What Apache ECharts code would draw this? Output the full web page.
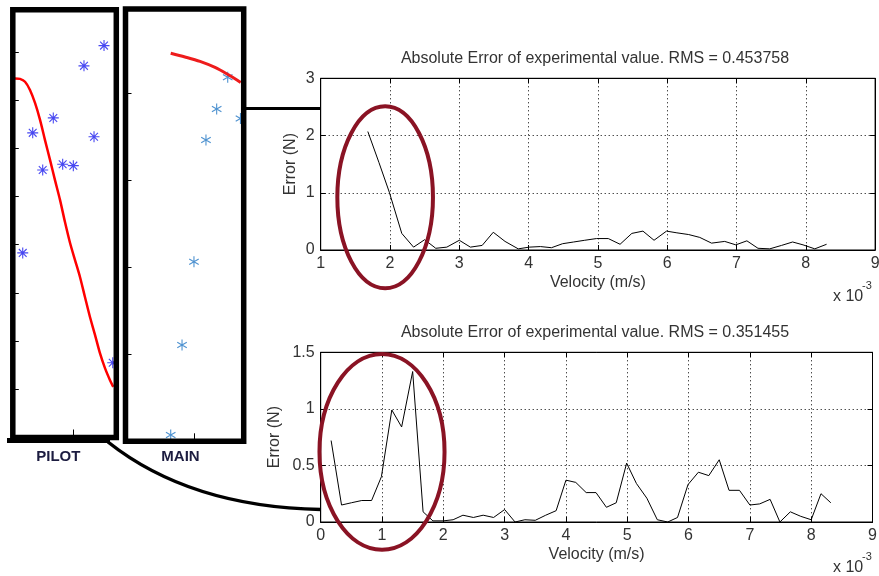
<!DOCTYPE html>
<html>
<head>
<meta charset="utf-8">
<script src="https://cdn.jsdelivr.net/npm/echarts@6/dist/echarts.min.js"></script>
<style>
  html, body { margin: 0; padding: 0; background: #fff; }
  #chart { width: 879px; height: 576px; }
</style>
</head>
<body>
<div id="chart"></div>
<script>
// ---- Upper plot: absolute error vs. velocity (x 10^-3 m/s) ----
const upperVelocity = [1.68, 1.84, 1.99, 2.17, 2.34, 2.50, 2.66, 2.82, 3.00, 3.16, 3.33, 3.49, 3.66, 3.85,
  4.01, 4.17, 4.33, 4.49, 4.65, 4.81, 4.98, 5.15, 5.32, 5.49, 5.65, 5.81, 5.99, 6.14, 6.31, 6.47,
  6.64, 6.83, 6.99, 7.15, 7.31, 7.48, 7.65, 7.81, 7.96, 8.13, 8.30];
const upperError = [2.07, 1.53, 1.01, 0.29, 0.05, 0.18, 0.03, 0.05, 0.17, 0.05, 0.08, 0.31, 0.15, 0.02,
  0.05, 0.06, 0.04, 0.11, 0.14, 0.17, 0.20, 0.20, 0.10, 0.29, 0.33, 0.17, 0.33, 0.30, 0.27, 0.22,
  0.12, 0.15, 0.09, 0.16, 0.03, 0.02, 0.08, 0.14, 0.09, 0.02, 0.10];
const upperTitle = 'Absolute Error of experimental value. RMS = 0.453758';

// ---- Lower plot ----
const lowerVelocity = [0.17, 0.34, 0.50, 0.67, 0.83, 0.99, 1.16, 1.32, 1.50, 1.67, 1.83, 2.00, 2.16, 2.32,
  2.49, 2.65, 2.82, 3.00, 3.17, 3.33, 3.50, 3.67, 3.84, 4.00, 4.16, 4.33, 4.49, 4.66, 4.82, 4.99,
  5.15, 5.32, 5.49, 5.66, 5.82, 5.99, 6.16, 6.33, 6.50, 6.66, 6.83, 7.00, 7.16, 7.33, 7.49, 7.66,
  7.83, 8.00, 8.16, 8.32];
const lowerError = [0.72, 0.15, 0.17, 0.19, 0.19, 0.40, 0.99, 0.84, 1.33, 0.09, 0.01, 0.01, 0.02, 0.06,
  0.04, 0.06, 0.04, 0.11, 0.00, 0.02, 0.015, 0.06, 0.10, 0.37, 0.35, 0.26, 0.26, 0.13, 0.17, 0.52,
  0.34, 0.21, 0.02, 0.00, 0.04, 0.33, 0.44, 0.41, 0.55, 0.28, 0.28, 0.15, 0.16, 0.20, 0.00, 0.09,
  0.05, 0.02, 0.25, 0.17];
const lowerTitle = 'Absolute Error of experimental value. RMS = 0.351455';

// Tick values of the two error plots
const upperXTicks = { min: 1, max: 9, step: 1 };
const upperYTicks = { min: 0, max: 3, step: 1 };
const lowerXTicks = { min: 0, max: 9, step: 1 };
const lowerYTicks = { min: 0, max: 1.5, step: 0.5 };

// ---- Inset "PILOT": measured points and fitted curve ----
const pilotPointX = [1.507, 1.176, 0.669, 0.329, 1.342, 0.494, 0.824, 1.000, 0.164, 1.651];
const pilotPointY = [8.13, 7.71, 6.63, 6.32, 6.24, 5.55, 5.67, 5.64, 3.83, 1.55];
const pilotCurveX = [0.000, 0.036, 0.119, 0.202, 0.284, 0.367, 0.450, 0.532, 0.615, 0.697, 0.780, 0.862,
  0.945, 1.028, 1.110, 1.193, 1.275, 1.358, 1.440, 1.523, 1.606, 1.660];
const pilotCurveY = [7.45, 7.45, 7.44, 7.38, 7.21, 6.94, 6.59, 6.17, 5.76, 5.34, 4.93, 4.47,
  4.04, 3.68, 3.33, 2.91, 2.50, 2.13, 1.75, 1.44, 1.19, 1.05];

// ---- Inset "MAIN" ----
const mainPointX = [1.490, 1.329, 1.173, 0.998, 0.824, 0.659, 1.676];
const mainPointY = [4.18, 3.815, 3.459, 2.062, 1.106, 0.072, 3.706];
const mainCurveX = [0.659, 0.867, 1.086, 1.305, 1.494, 1.625, 1.679];
const mainCurveY = [4.455, 4.412, 4.361, 4.292, 4.211, 4.148, 4.119];

// Regions circled on the error plots (data units)
const upperHighlight = { cx: 1.93, cy: 0.92, halfW: 0.69, halfH: 1.59 };
const lowerHighlight = { cx: 1.00, cy: 0.62, halfW: 1.02, halfH: 0.865 };

// ------------------------------------------------------------------
const FONT = "'Liberation Sans', Arial, Helvetica, sans-serif";
const TXT = '#333';
const MAROON = '#8a1324';

const pairs = (xs, ys) => xs.map((x, i) => [x, ys[i]]);

// Marker shapes: 8-arm "+ and x" star and 6-arm asterisk
const STAR8 = 'path://M-0.5,-5L0.5,-5L0.5,5L-0.5,5Z M-5,-0.5L5,-0.5L5,0.5L-5,0.5Z ' +
  'M3.18,3.89L-3.89,-3.18L-3.18,-3.89L3.89,3.18Z M3.89,-3.18L-3.18,3.89L-3.89,3.18L3.18,-3.89Z';
const STAR6 = 'path://M-0.5,-5L0.5,-5L0.5,5L-0.5,5Z ' +
  'M4.08,2.93L-4.58,-2.07L-4.08,-2.93L4.58,2.07Z M4.58,-2.07L-4.08,2.93L-4.58,2.07L4.08,-2.93Z';

const labelStyle = { color: TXT, fontSize: 16, fontFamily: FONT };
const dotted = { color: '#000', width: 1, type: [1, 3] };
const tickIn = { show: true, inside: true, length: 5, lineStyle: { color: '#000', width: 1 } };

function plotXAxes(grid, t, withName) {
  return [
    {
      gridIndex: grid, type: 'value', min: t.min, max: t.max, interval: t.step, position: 'bottom',
      axisLine: { show: true, onZero: false, lineStyle: { color: '#000', width: 1 } },
      axisTick: tickIn,
      axisLabel: Object.assign({ show: true, margin: 6 }, labelStyle),
      splitLine: { show: true, lineStyle: dotted },
      name: withName, nameLocation: 'middle', nameGap: 25, nameMoveOverlap: false,
      nameTextStyle: labelStyle
    },
    {
      gridIndex: grid, type: 'value', min: t.min, max: t.max, interval: t.step, position: 'top',
      axisLine: { show: true, onZero: false, lineStyle: { color: '#000', width: 1 } },
      axisTick: tickIn, axisLabel: { show: false }, splitLine: { show: false }
    }
  ];
}
function plotYAxes(grid, t, gap) {
  return [
    {
      gridIndex: grid, type: 'value', min: t.min, max: t.max, interval: t.step, position: 'left',
      axisLine: { show: true, onZero: false, lineStyle: { color: '#000', width: 1 } },
      axisTick: tickIn,
      axisLabel: Object.assign({ show: true, margin: 6 }, labelStyle),
      splitLine: { show: true, lineStyle: dotted },
      name: 'Error (N)', nameLocation: 'middle', nameGap: gap, nameMoveOverlap: false,
      nameTextStyle: labelStyle
    },
    {
      gridIndex: grid, type: 'value', min: t.min, max: t.max, interval: t.step, position: 'right',
      axisLine: { show: true, onZero: false, lineStyle: { color: '#000', width: 1 } },
      axisTick: tickIn, axisLabel: { show: false }, splitLine: { show: false }
    }
  ];
}
function insetAxis(grid, max, tickLen) {
  return {
    gridIndex: grid, type: 'value', min: 0, max: max, interval: 1,
    axisLine: { show: false },
    axisTick: { show: true, inside: true, length: tickLen, lineStyle: { color: '#000', width: 1 } },
    axisLabel: { show: false }, splitLine: { show: false }
  };
}

const chart = echarts.init(document.getElementById('chart'), null, { renderer: 'canvas' });

const option = {
  animation: false,
  backgroundColor: '#fff',
  title: [
    { text: upperTitle, left: 595, top: 51, textAlign: 'center', padding: 0,
      textStyle: { fontSize: 16, fontWeight: 'normal', color: TXT, fontFamily: FONT } },
    { text: lowerTitle, left: 595, top: 324.5, textAlign: 'center', padding: 0,
      textStyle: { fontSize: 16, fontWeight: 'normal', color: TXT, fontFamily: FONT } }
  ],
  grid: [
    { left: 320.7, top: 78.3, width: 554.4, height: 171.7, outerBoundsMode: 'none',
      show: true, borderColor: '#000', borderWidth: 1, backgroundColor: 'transparent' },
    { left: 320.7, top: 352.3, width: 551.8, height: 169.7, outerBoundsMode: 'none',
      show: true, borderColor: '#000', borderWidth: 1, backgroundColor: 'transparent' },
    { left: 12.8, top: 9.8, width: 103.5, height: 427.7, outerBoundsMode: 'none', z: 10,
      show: true, borderColor: '#000', borderWidth: 5.5, backgroundColor: 'transparent' },
    { left: 125.5, top: 9, width: 118.2, height: 432.3, outerBoundsMode: 'none', z: 10,
      show: true, borderColor: '#000', borderWidth: 5.5, backgroundColor: 'transparent' }
  ],
  xAxis: [
    ...plotXAxes(0, upperXTicks, 'Velocity (m/s)'),
    ...plotXAxes(1, lowerXTicks, 'Velocity (m/s)'),
    insetAxis(2, 1.71, 8),
    insetAxis(3, 1.723, 8)
  ],
  yAxis: [
    ...plotYAxes(0, upperYTicks, 22),
    ...plotYAxes(1, lowerYTicks, 38),
    insetAxis(2, 8.873, 6),
    insetAxis(3, 4.963, 6)
  ],
  series: [
    { type: 'line', xAxisIndex: 0, yAxisIndex: 0, data: pairs(upperVelocity, upperError),
      showSymbol: false, symbol: 'none', lineStyle: { color: '#000', width: 1 }, z: 3 },
    { type: 'line', xAxisIndex: 2, yAxisIndex: 2, data: pairs(lowerVelocity, lowerError),
      showSymbol: false, symbol: 'none', lineStyle: { color: '#000', width: 1 }, z: 3 },
    { type: 'line', xAxisIndex: 4, yAxisIndex: 4, data: pairs(pilotCurveX, pilotCurveY),
      smooth: 0.3, showSymbol: false, symbol: 'none', lineStyle: { color: '#f00', width: 2.5 } },
    { type: 'scatter', xAxisIndex: 4, yAxisIndex: 4, data: pairs(pilotPointX, pilotPointY),
      symbol: STAR8, symbolSize: 11, itemStyle: { color: '#1a1aee' } },
    { type: 'line', xAxisIndex: 5, yAxisIndex: 5, data: pairs(mainCurveX, mainCurveY),
      smooth: 0.3, showSymbol: false, symbol: 'none', lineStyle: { color: '#ee1c1c', width: 3 } },
    { type: 'scatter', xAxisIndex: 5, yAxisIndex: 5, data: pairs(mainPointX, mainPointY),
      symbol: STAR6, symbolSize: 11, symbolKeepAspect: true, itemStyle: { color: '#2277c4' } }
  ]
};
chart.setOption(option);

// Circled regions, placed from data coordinates
function ellipseFor(h, xi, yi) {
  const c = chart.convertToPixel({ xAxisIndex: xi, yAxisIndex: yi }, [h.cx, h.cy]);
  const e = chart.convertToPixel({ xAxisIndex: xi, yAxisIndex: yi }, [h.cx + h.halfW, h.cy + h.halfH]);
  return {
    type: 'ellipse', z: 100, silent: true,
    shape: { cx: c[0], cy: c[1], rx: Math.abs(e[0] - c[0]), ry: Math.abs(c[1] - e[1]) },
    style: { fill: 'none', stroke: MAROON, lineWidth: 4 }
  };
}

chart.setOption({
  graphic: [
    ellipseFor(upperHighlight, 0, 0),
    ellipseFor(lowerHighlight, 2, 2),
    // connectors from the insets to the error plots
    { type: 'line', z: 50, shape: { x1: 246, y1: 108.5, x2: 321, y2: 108.5 },
      style: { stroke: '#000', lineWidth: 3 } },
    { type: 'line', z: 50, shape: { x1: 7, y1: 440.5, x2: 110, y2: 440.5 },
      style: { stroke: '#000', lineWidth: 5 } },
    { type: 'bezierCurve', z: 50,
      shape: { x1: 108, y1: 442, cpx1: 190, cpy1: 507, x2: 321, y2: 509.5 },
      style: { stroke: '#000', lineWidth: 3.5, fill: 'none' } },
    // inset captions
    { type: 'text', z: 50, x: 58.3, y: 457,
      style: { text: 'PILOT', font: "bold 15px 'Liberation Sans', Arial, sans-serif", fill: '#1c1c40',
               align: 'center', verticalAlign: 'middle' } },
    { type: 'text', z: 50, x: 180.5, y: 457,
      style: { text: 'MAIN', font: "bold 15px 'Liberation Sans', Arial, sans-serif", fill: '#1c1c40',
               align: 'center', verticalAlign: 'middle' } },
    // axis exponent
    { type: 'text', z: 50, x: 833, y: 297,
      style: { text: 'x 10', font: "16px 'Liberation Sans', Arial, sans-serif", fill: TXT, verticalAlign: 'middle' } },
    { type: 'text', z: 50, x: 862, y: 286,
      style: { text: '-3', font: "11px 'Liberation Sans', Arial, sans-serif", fill: TXT, verticalAlign: 'middle' } },
    { type: 'text', z: 50, x: 833, y: 568,
      style: { text: 'x 10', font: "16px 'Liberation Sans', Arial, sans-serif", fill: TXT, verticalAlign: 'middle' } },
    { type: 'text', z: 50, x: 862, y: 557,
      style: { text: '-3', font: "11px 'Liberation Sans', Arial, sans-serif", fill: TXT, verticalAlign: 'middle' } }
  ]
});
</script>
</body>
</html>
